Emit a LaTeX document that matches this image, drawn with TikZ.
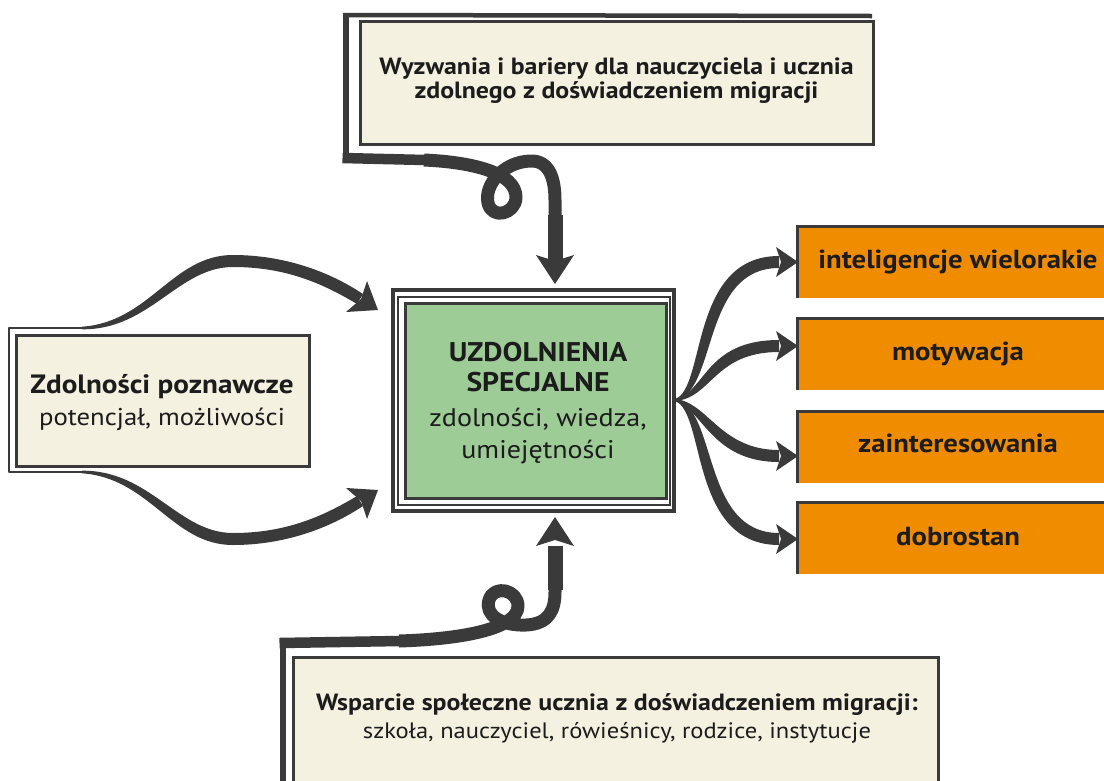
\documentclass[tikz,border=0pt]{standalone}
\usepackage{fontspec}
\setmainfont{PT Sans}[FakeStretch=1.1]
\definecolor{cream}{RGB}{244,241,224}
\definecolor{leaf}{RGB}{157,204,150}
\definecolor{amber}{RGB}{240,140,0}
\definecolor{ink}{RGB}{58,58,58}
\definecolor{txt}{RGB}{28,28,28}
\begin{document}
\begin{tikzpicture}[x=1pt,y=-1pt,
  inkfill/.style={fill=ink,draw=none},
  band/.style={draw=ink,line cap=butt,line join=round},
  creambox/.style={draw=ink,line width=3pt,fill=cream,inner sep=0pt},
  amberbox/.style={fill=amber,draw=none,inner sep=0pt,minimum width=306pt,minimum height=71pt},
  bt/.style={font=\bfseries\fontsize{#1}{#1}\selectfont,text=txt,inner sep=0pt,anchor=base},
  rt/.style={font=\fontsize{#1}{#1}\selectfont,text=txt,inner sep=0pt,anchor=base}]
\useasboundingbox (0,0) rectangle (1104,780);

% ---------- top box ----------
\node[creambox,minimum width=513pt,minimum height=123pt] (topbox) at (616.5,82.5) {};
\node[bt=23.5] (top1) at (616.5,74) {Wyzwania i bariery dla nauczyciela i ucznia};
\node[bt=23.5] (top2) at (616.5,98) {zdolnego z doświadczeniem migracji};
\draw[band,line width=4.5pt] (343,15) -- (872,16);
\draw[band,line width=6pt] (345.5,12.75) -- (345.5,163);
\draw[band,line width=10.5pt] (342.5,158) -- (425,160);
\draw[band,line width=13pt] (424,160) .. controls (470,162) and (517,172) .. (516,198)
  .. controls (515,214) and (492,220) .. (488,203)
  .. controls (484,185) and (503,162) .. (530,161)
  .. controls (550,160) and (555,180) .. (555,200) -- (555,262);
\draw[band,line width=15pt] (555,215) -- (555,262);
\fill[inkfill] (555,284) -- (536,255) -- (555,261) -- (574,255) -- cycle;

% ---------- left box ----------
\node[creambox,minimum width=292.5pt,minimum height=130.5pt] (leftbox) at (162.75,400.75) {};
\node[bt=26.5] (left1) at (162,393) {Zdolności poznawcze};
\node[rt=24.3] (left2) at (162,425) {potencjał, możliwości};
\draw[band,line width=2.7pt] (84,328) -- (9,328) -- (9,472) -- (84,472);
\fill[inkfill] (82,326.7) .. controls (150,322) and (172,255) .. (233,255)
  .. controls (285,255) and (330,272) .. (363,294) -- (357,304)
  .. controls (322,283) and (285,267) .. (233,267)
  .. controls (178,267) and (150,330) .. (82,329.3) -- cycle;
\fill[inkfill] (378,310) -- (367,281) -- (361,299) -- (346,312) -- cycle;
\fill[inkfill] (82,473.3) .. controls (150,478) and (172,545) .. (233,545)
  .. controls (285,545) and (330,528) .. (363,506) -- (357,496)
  .. controls (322,517) and (285,533) .. (233,533)
  .. controls (178,533) and (150,470) .. (82,470.7) -- cycle;
\fill[inkfill] (378,490) -- (367,519) -- (361,501) -- (346,488) -- cycle;

% ---------- centre box ----------
\draw[ink,line width=3.5pt] (393,290) rectangle (674,511);
\draw[ink,line width=1.2pt] (398,297) rectangle (670,505);
\node[draw=ink,line width=3pt,fill=leaf,inner sep=0pt,minimum width=261pt,minimum height=195pt] (centre) at (535.5,401) {};
\node[bt=27] (c1) at (538,361) {UZDOLNIENIA};
\node[bt=27] (c2) at (538,391) {SPECJALNE};
\node[rt=25.5] (c3) at (538,426) {zdolności, wiedza,};
\node[rt=25.5] (c4) at (538,458) {umiejętności};

% ---------- orange boxes ----------
\foreach \n/\yc in {o1/262.5,o2/354.5,o3/447,o4/538.5}{
  \node[amberbox] (\n) at (951,\yc) {};
  \draw[ink,line width=3pt] (\n.south west) -- (\n.north west) -- (\n.north east);
}
\node[bt=26.1] (o1t) at (958,268) {inteligencje wielorakie};
\node[bt=26.1] (o2t) at (958,360) {motywacja};
\node[bt=26.1] (o3t) at (958,452) {zainteresowania};
\node[bt=26.1] (o4t) at (958,545) {dobrostan};

% ---------- right fan ----------
\coordinate (fan) at (675,400);
\fill[inkfill] (675,399) .. controls (706,389) and (689,256) .. (779,256) -- (779,268) .. controls (701,268) and (718,391) .. (675,401) -- cycle;
\fill[inkfill] (675,399) .. controls (706,392) and (705,340) .. (779,340) -- (779,352) .. controls (714,352) and (712,398) .. (675,401) -- cycle;
\fill[inkfill] (675,399) .. controls (708,402) and (720,450) .. (779,450) -- (779,462) .. controls (711,462) and (702,408) .. (675,401) -- cycle;
\fill[inkfill] (675,399) .. controls (718,408) and (701,533) .. (779,533) -- (779,545) .. controls (689,545) and (706,412) .. (675,401) -- cycle;
\foreach \yy in {262,346,456,539}{
  \fill[inkfill] (798,\yy) -- (776,\yy-15) -- (781,\yy) -- (776,\yy+15) -- cycle;
}

% ---------- bottom box ----------
\node[creambox,minimum width=645pt,minimum height=125pt] (botbox) at (615.5,719.5) {};
\node[bt=23.5] (b1) at (617,710) {Wsparcie społeczne ucznia z doświadczeniem migracji:};
\node[rt=22.3] (b2) at (617,738) {szkoła, nauczyciel, rówieśnicy, rodzice, instytucje};
\draw[band,line width=6pt] (282.5,638) -- (282.5,782);
\draw[band,line width=10.5pt] (279.5,643) -- (400,641);
\draw[band,line width=13pt] (399,641) .. controls (465,639) and (518,628) .. (518,606)
  .. controls (518,590) and (494,584) .. (489,600)
  .. controls (484,616) and (503,626) .. (526,625)
  .. controls (549,624) and (555,610) .. (555,592) -- (555,546);
\draw[band,line width=15pt] (555,590) -- (555,546);
\fill[inkfill] (555,517) -- (536,546) -- (555,540) -- (574,546) -- cycle;
\end{tikzpicture}
\end{document}
